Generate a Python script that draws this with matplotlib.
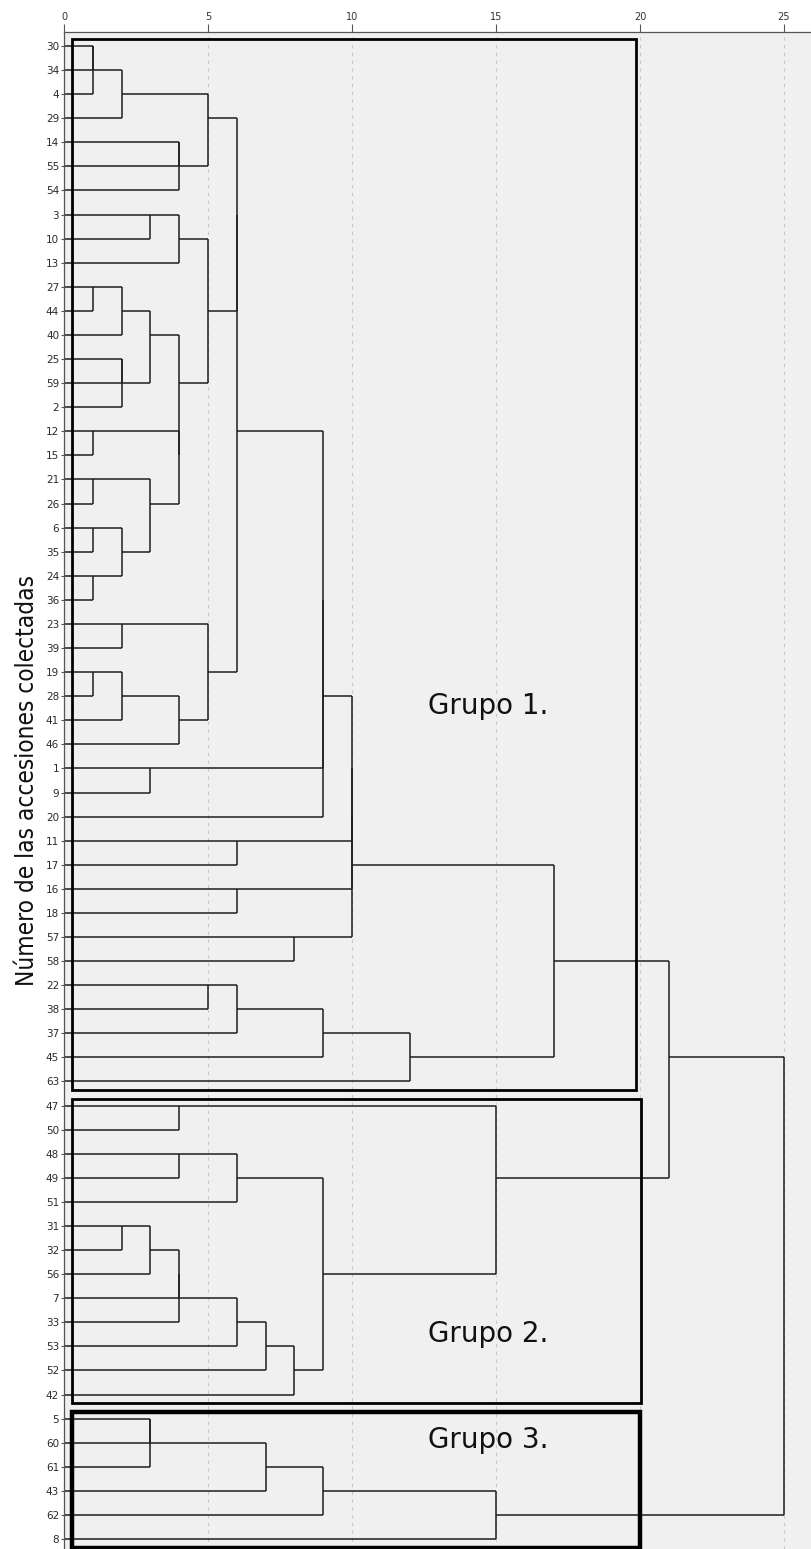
import matplotlib
matplotlib.use("Agg")
import matplotlib.pyplot as plt
from matplotlib.patches import Rectangle

# Leaf labels, top to bottom, as shown on the dendrogram
leaves = ["30", "34", "4", "29", "14", "55", "54", "3", "10", "13",
          "27", "44", "40", "25", "59", "2", "12", "15", "21", "26",
          "6", "35", "24", "36", "23", "39", "19", "28", "41", "46",
          "1", "9", "20", "11", "17", "16", "18", "57", "58", "22",
          "38", "37", "45", "63",
          "47", "50", "48", "49", "51", "31", "32", "56", "7", "33",
          "53", "52", "42",
          "5", "60", "61", "43", "62", "8"]

# Merges: (left, right, distance); str = leaf label, int = index of earlier merge
merges = [
    ("30", "34", 1), (0, "4", 1), (1, "29", 2), ("14", "55", 4), (3, "54", 4),
    (2, 4, 5), ("3", "10", 3), (6, "13", 4), ("27", "44", 1), (8, "40", 2),
    ("25", "59", 2), (10, "2", 2), (9, 11, 3), ("12", "15", 1), ("21", "26", 1),
    ("6", "35", 1), ("24", "36", 1), (15, 16, 2), (14, 17, 3), (13, 18, 4),
    (12, 19, 4), (7, 20, 5), ("23", "39", 2), ("19", "28", 1), (23, "41", 2),
    (24, "46", 4), (22, 25, 5), (5, 21, 6), (27, 26, 6), ("1", "9", 3),
    (28, 29, 9), (30, "20", 9), ("11", "17", 6), ("16", "18", 6), ("57", "58", 8),
    (31, 32, 10), (35, 33, 10), (36, 34, 10), ("22", "38", 5), (38, "37", 6),
    (39, "45", 9), (40, "63", 12), (37, 41, 17),
    ("47", "50", 4), ("48", "49", 4), (44, "51", 6), ("31", "32", 2), (46, "56", 3),
    (47, "7", 4), (48, "33", 4), (49, "53", 6), (50, "52", 7), (51, "42", 8),
    (45, 52, 9), (43, 53, 15), (42, 54, 21),
    ("5", "60", 3), (56, "61", 3), (57, "43", 7), (58, "62", 9), (59, "8", 15),
    (55, 60, 25),
]

group_names = ["Grupo 1.", "Grupo 2.", "Grupo 3."]
group_sizes = [44, 13, 6]
x_ticks = [0, 5, 10, 15, 20, 25]

fig = plt.figure(figsize=(8.12, 15.49), dpi=100)
ax = fig.add_axes([64 / 812, 0, 1 - 64 / 812, (1549 - 32) / 1549])
ax.set_facecolor("#f0f0f0")

row_of = {lab: i for i, lab in enumerate(leaves)}
node_y, node_h = [], []


def position(ref):
    if isinstance(ref, str):
        return row_of[ref], 0
    return node_y[ref], node_h[ref]


line_kw = dict(color="#1e1e1e", lw=1.1, solid_capstyle="butt")
for a, b, h in merges:
    ya, ha = position(a)
    yb, hb = position(b)
    ax.plot([ha, h], [ya, ya], **line_kw)
    ax.plot([hb, h], [yb, yb], **line_kw)
    ax.plot([h, h], [ya, yb], **line_kw)
    node_y.append((ya + yb) // 2)  # SPSS snaps the node to a row
    node_h.append(h)

# group boxes
box_right = [19.86, 20.03, 20.0]
box_lw = [2.0, 2.0, 3.2]
start = 0
for name, size, right, lw in zip(group_names, group_sizes, box_right, box_lw):
    top, bottom = start - 0.28, start + size - 1 + 0.36
    ax.add_patch(Rectangle((0.27, top), right - 0.27, bottom - top,
                           fill=False, edgecolor="black", lw=lw, zorder=5))
    start += size

label_rows = [27.4, 53.5, 57.9]
for name, r in zip(group_names, label_rows):
    ax.text(12.64, r, name, fontsize=20, va="center", ha="left", color="#111111")

ax.set_xlim(0, 748 / 28.8)
ax.set_ylim(62 + 10 / 24.08, -14 / 24.08)

ax.xaxis.tick_top()
ax.set_xticks(x_ticks)
ax.set_xticklabels([str(t) for t in x_ticks])
ax.set_yticks(range(len(leaves)))
ax.set_yticklabels(leaves)
ax.tick_params(axis="x", length=5.5, width=0.8, color="#555555",
               labelsize=7, labelcolor="#333333", pad=2)
ax.tick_params(axis="y", length=2.5, width=0.8, color="#555555",
               labelsize=7.5, labelcolor="#2a2a2a", pad=1)

ax.grid(axis="x", color="#c8c8c8", lw=0.8, ls=(0, (3, 4)))
ax.grid(axis="y", visible=False)
ax.set_axisbelow(True)

for side in ["right", "bottom"]:
    ax.spines[side].set_visible(False)
for side in ["left", "top"]:
    ax.spines[side].set_color("#555555")
    ax.spines[side].set_linewidth(0.9)

fig.text(27 / 812, 1 - 780 / 1549, "Número de las accesiones colectadas",
         rotation=90, ha="center", va="center", fontsize=17.5,
         family="DejaVu Sans", fontstretch="condensed", color="#111111")

fig.savefig("out.png", dpi=100)
